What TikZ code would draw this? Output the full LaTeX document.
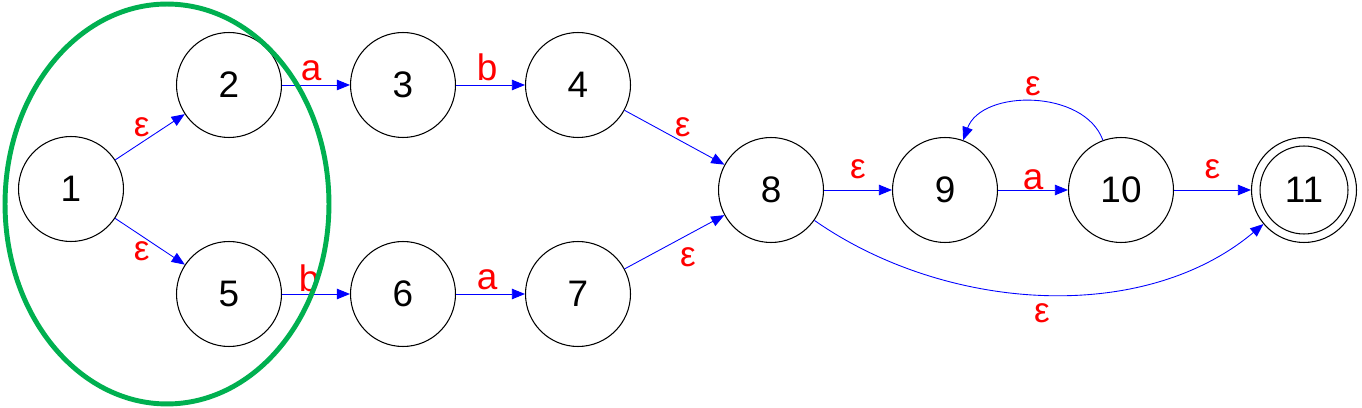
\documentclass[tikz,border=0pt]{standalone}
\usepackage{fontspec}
\setmainfont{Liberation Sans}
\usetikzlibrary{arrows.meta}
\definecolor{ovalgreen}{RGB}{0,176,80}
\tikzset{
  state/.style={circle, draw, line width=0.6pt, minimum size=2.1cm, inner sep=0pt,
    font=\fontsize{21}{25}\selectfont},
  trans/.style={draw=blue, line width=0.5pt, -{Triangle[length=7.5pt,width=6pt]}},
  sym/.style={text=red, inner sep=2pt, font=\fontsize{21}{25}\selectfont},
  eps/.style={text=red, inner sep=2pt, font=\fontsize{20}{24}\selectfont}
}

\begin{document}
\begin{tikzpicture}[x=0.02cm, y=-0.02cm]
        \useasboundingbox (0,0) rectangle (1362,408);
        % states
        \node[state] (1) at (71,189) {1};
        \node[state] (2) at (229,85) {2};
        \node[state] (3) at (403,85) {3};
        \node[state] (4) at (578,85) {4};
        \node[state] (5) at (229,294) {5};
        \node[state] (6) at (403,294) {6};
        \node[state] (7) at (578,294) {7};
        \node[state] (8) at (771,190) {8};
        \node[state] (9) at (945,190) {9};
        \node[state] (10) at (1121,190) {10};
        \node[state] (11) at (1304,190) {11};
        \node[circle, draw, line width=0.6pt, minimum size=1.76cm] (11in) at (11) {};
        % transitions
        \draw[trans] (1) -- node[eps, above left=-2pt] {ε} (2);
        \draw[trans] (1) -- node[eps, below left=-2pt] {ε} (5);
        \draw[trans] (2) -- node[sym, above=0pt, pos=.43] {a} (3);
        \draw[trans] (3) -- node[sym, above=0pt, pos=.45] {b} (4);
        \draw[trans] (5) -- node[sym, above=-1pt, pos=.40] {b} (6);
        \draw[trans] (6) -- node[sym, above=0pt, pos=.45] {a} (7);
        \draw[trans] (4) -- node[eps, above right=-2pt] {ε} (8);
        \draw[trans] (7) -- node[eps, below right=1pt] {ε} (8);
        \draw[trans] (8) -- node[eps, above=4pt] {ε} (9);
        \draw[trans] (9) -- node[sym, above=-2pt] {a} (10);
        \draw[trans] (10) -- node[eps, above=4pt] {ε} (11);
        \draw[trans] (10) to[out=110, in=70] node[eps, above=1pt] {ε} (9);
        \draw[trans] (8) to[out=-35, in=-140, looseness=.9] node[eps, below=3pt] {ε} (11);
        % the closure of state 1
        \draw[ovalgreen, line width=2.8pt] (167,204) ellipse [x radius=3.24cm, y radius=4cm];
\end{tikzpicture}
\end{document}
